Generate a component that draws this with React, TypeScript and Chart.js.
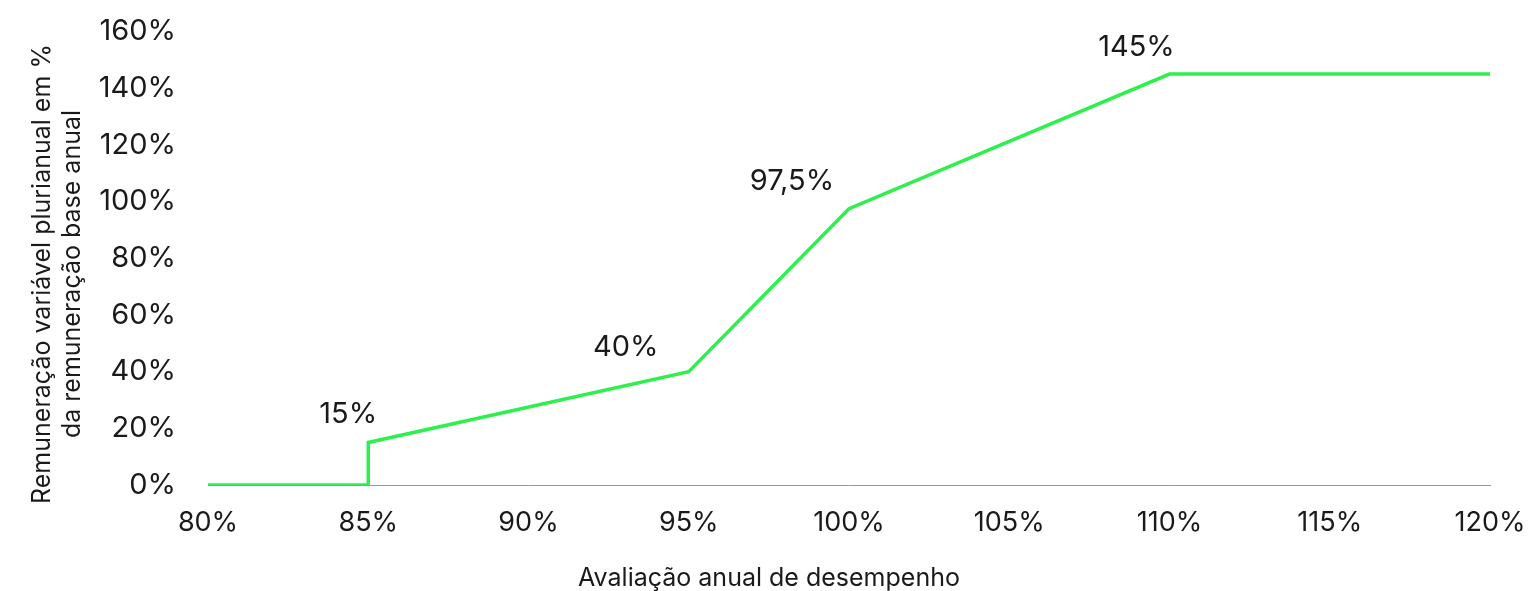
import React, { useEffect, useRef } from "react";
import { Chart, registerables } from "chart.js";

Chart.register(...registerables);

const performance = [80, 85, 85, 95, 100, 110, 120];
const payout = [0, 0, 15, 40, 97.5, 145, 145];
const labelIndexes = [2, 3, 4, 5];
const labelTexts = ["15%", "40%", "97,5%", "145%"];
const xTicks = [80, 85, 90, 95, 100, 105, 110, 115, 120];
const yTicks = [0, 20, 40, 60, 80, 100, 120, 140, 160];
const xTitle = "Avaliação anual de desempenho";
const yTitleLines = ["Remuneração variável plurianual em %", "da remuneração base anual"];

const FONT = "Inter, 'Noto Sans', sans-serif";
const TEXT = "#1a1a1a";
const labelOffsets = [[-20, -28], [-63, -24], [-57, -27], [-33, -27]];

export default function App() {
  const ref = useRef<HTMLCanvasElement | null>(null);
  useEffect(() => {
    document.body.style.margin = "0";
    const labelPlugin = {
      id: "pointLabels",
      afterDatasetsDraw(chart: any) {
        const ctx = chart.ctx;
        const xs = chart.scales.x;
        const ys = chart.scales.y;
        ctx.save();
        ctx.fillStyle = TEXT;
        ctx.font = `29px ${FONT}`;
        ctx.textAlign = "center";
        ctx.textBaseline = "middle";
        labelIndexes.forEach((idx, i) => {
          const px = xs.getPixelForValue(performance[idx]);
          const py = ys.getPixelForValue(payout[idx]);
          ctx.fillText(labelTexts[i], px + labelOffsets[i][0], py + labelOffsets[i][1]);
        });
        ctx.font = `25px ${FONT}`;
        ctx.fillText(xTitle, 769, 578);
        ctx.translate(42, 274);
        ctx.rotate(-Math.PI / 2);
        ctx.fillText(yTitleLines[0], 0, 0);
        ctx.fillText(yTitleLines[1], 0, 30);
        ctx.restore();
      },
    };
    const chart = new Chart(ref.current!, {
      type: "scatter",
      data: {
        datasets: [
          {
            data: performance.map((x, i) => ({ x, y: payout[i] })),
            showLine: true,
            borderColor: "#2ef04c",
            borderWidth: 3.5,
            pointRadius: 0,
            fill: false,
            tension: 0,
          },
        ],
      },
      options: {
        animation: false,
        responsive: false,
        layout: { padding: { top: 31.5, right: 44, left: 0, bottom: 0 } },
        plugins: { legend: { display: false }, tooltip: { enabled: false } },
        scales: {
          x: {
            type: "linear",
            min: 80,
            max: 120,
            afterBuildTicks: (s: any) => {
              s.ticks = xTicks.map((v) => ({ value: v }));
            },
            afterFit: (s: any) => {
              s.height = 106;
              s.paddingLeft = 0;
              s.paddingRight = 0;
            },
            grid: { display: false, drawTicks: false },
            border: { display: true, color: "#8a9aa8", width: 1 },
            ticks: {
              padding: 22,
              color: TEXT,
              font: { family: FONT, size: 27 },
              maxRotation: 0,
              callback: (v: any) => `${v}%`,
            },
          },
          y: {
            min: 0,
            max: 160,
            afterBuildTicks: (s: any) => {
              s.ticks = yTicks.map((v) => ({ value: v }));
            },
            afterFit: (s: any) => {
              s.width = 208;
              s.paddingTop = 0;
              s.paddingBottom = 0;
            },
            grid: { display: false, drawTicks: false },
            border: { display: false },
            ticks: {
              padding: 32,
              color: TEXT,
              font: { family: FONT, size: 29 },
              callback: (v: any) => `${v}%`,
            },
          },
        },
      },
      plugins: [labelPlugin],
    });
    return () => chart.destroy();
  }, []);
  return (
    <div style={{ width: 1534, height: 591 }}>
      <canvas ref={ref} width={1534} height={591} style={{ display: "block" }} />
    </div>
  );
}
